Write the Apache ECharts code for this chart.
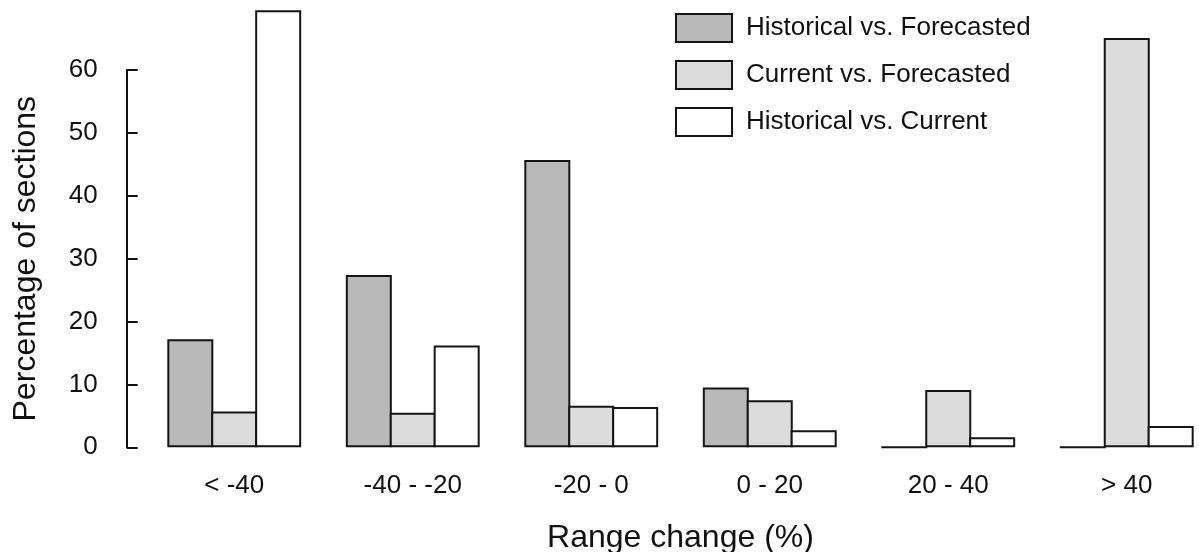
<!DOCTYPE html>
<html>
<head>
<meta charset="utf-8">
<script src="https://cdn.jsdelivr.net/npm/echarts@6/dist/echarts.min.js"></script>
<style>
html,body{margin:0;padding:0;background:#fff;}
#chart{width:1199px;height:552px;}
</style>
</head>
<body>
<div id="chart"></div>
<script>
const categories = ['< -40', '-40 - -20', '-20 - 0', '0 - 20', '20 - 40', '> 40'];
const seriesNames = ['Historical vs. Forecasted', 'Current vs. Forecasted', 'Historical vs. Current'];
const histVsForecast = [17.2, 27.4, 45.7, 9.5, 0, 0];
const currVsForecast = [5.7, 5.5, 6.6, 7.5, 9.1, 65.1];
const histVsCurrent = [69.5, 16.2, 6.4, 2.7, 1.6, 3.4];
const yTicks = [0, 10, 20, 30, 40, 50, 60];

const FONT = '"Liberation Sans", Arial, Helvetica, sans-serif';
const INK = '#111';
const fills = ['#b9b9b9', '#dcdcdc', '#ffffff'];
const values = [histVsForecast, currVsForecast, histVsCurrent];

const chart = echarts.init(document.getElementById('chart'), null, {renderer: 'canvas'});

const option = {
  animation: false,
  backgroundColor: '#fff',
  textStyle: {fontFamily: FONT, color: INK},
  legend: {
    orient: 'vertical',
    left: 675,
    top: 13,
    padding: 0,
    itemWidth: 56,
    itemHeight: 28,
    itemGap: 17,
    icon: 'rect',
    selectedMode: false,
    textStyle: {fontFamily: FONT, fontSize: 26, color: INK, lineHeight: 28, padding: [0, 0, 0, 9]},
    data: seriesNames
  },
  grid: [
    {left: 145, width: 1071, top: 7.14, bottom: 104.7, containLabel: false, outerBoundsMode: 'none'},
    {left: 126.7, width: 10, top: 70, bottom: 104.7, containLabel: false, outerBoundsMode: 'none'}
  ],
  xAxis: [
    {
      type: 'category', gridIndex: 0, data: categories,
      axisLine: {show: false}, axisTick: {show: false},
      axisLabel: {fontFamily: FONT, fontSize: 26, color: INK, margin: 26},
      name: 'Range change (%)', nameLocation: 'middle', nameGap: 75,
      nameTextStyle: {fontFamily: FONT, fontSize: 32, color: INK}
    },
    {type: 'value', gridIndex: 1, show: false}
  ],
  yAxis: [
    {type: 'value', gridIndex: 0, min: 0, max: 70, show: false},
    {
      type: 'value', gridIndex: 1, min: 0, max: 60, interval: 10,
      axisLine: {show: true, lineStyle: {color: INK, width: 2}},
      axisTick: {show: true, inside: true, length: 11, lineStyle: {color: INK, width: 2}},
      axisLabel: {fontFamily: FONT, fontSize: 26, color: INK, margin: 29, padding: [9, 0, 0, 0],
        formatter: v => (yTicks.indexOf(v) >= 0 ? String(v) : '')},
      splitLine: {show: false},
      name: 'Percentage of sections', nameLocation: 'middle', nameGap: 85,
      nameTextStyle: {fontFamily: FONT, fontSize: 32, color: INK}
    }
  ],
  series: seriesNames.map((name, i) => ({
    name: name,
    type: 'bar',
    xAxisIndex: 0,
    yAxisIndex: 0,
    data: values[i],
    barGap: '-4.5%',
    barCategoryGap: '25%',
    itemStyle: {color: fills[i], borderColor: '#151515', borderWidth: 2}
  }))
};
chart.setOption(option);
</script>
</body>
</html>
